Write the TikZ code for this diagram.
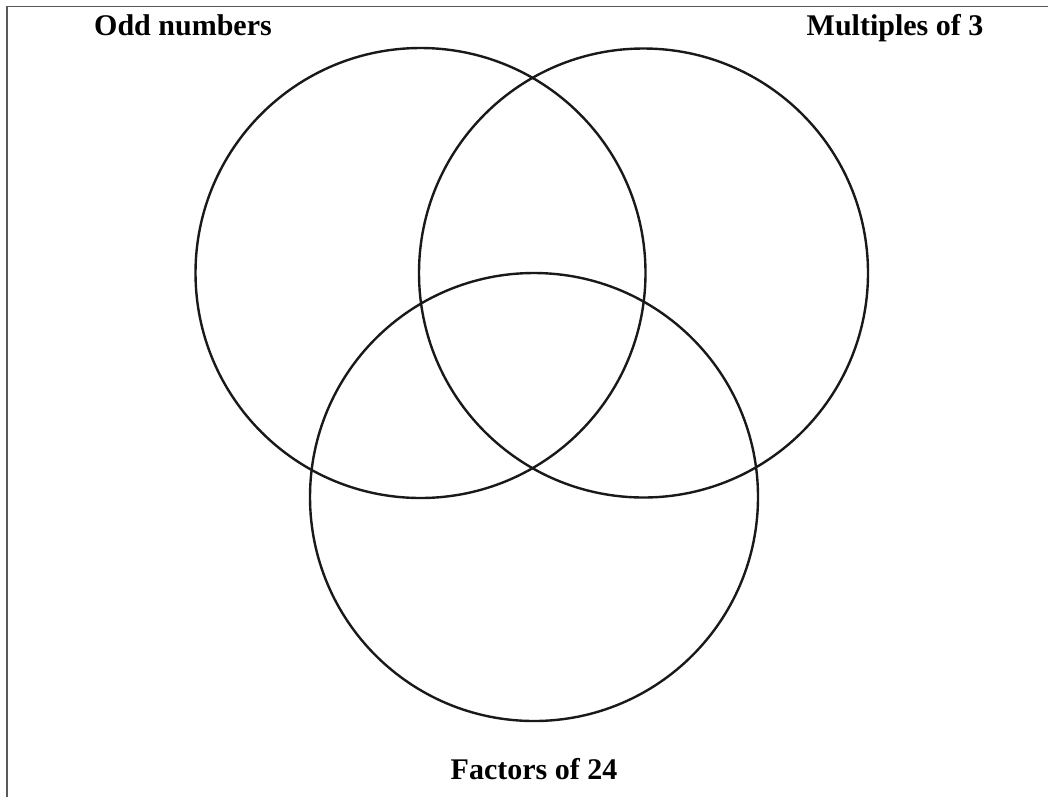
\documentclass[tikz,border=0pt]{standalone}
\usepackage{fontspec}
\setmainfont{Liberation Serif}
\begin{document}
\begin{tikzpicture}[x=0.75pt,y=-0.75pt,
  setcircle/.style={draw=black!90, line width=1.8pt},
  setlabel/.style={font=\fontsize{22.5}{26}\selectfont\bfseries, anchor=base, inner sep=0pt},
  frameline/.style={draw=black!65, line width=1.4pt}]
\useasboundingbox (0,0) rectangle (1048,797);
\coordinate (tl) at (7,6.5);
\coordinate (tr) at (1048,6.5);
\coordinate (bl) at (7,797);
\draw[frameline] (bl) -- (tl) -- (tr);
\node[setcircle, circle, minimum size=450*0.75pt, inner sep=0pt] (odd) at (420.5,273) {};
\node[setcircle, circle, minimum size=449*0.75pt, inner sep=0pt] (mult) at (643.5,273) {};
\node[setcircle, circle, minimum size=448*0.75pt, inner sep=0pt] (fact) at (534,497) {};
\node[setlabel] (lodd) at (183,35.5) {Odd numbers};
\node[setlabel] (lmult) at (895,35.5) {Multiples of 3};
\node[setlabel] (lfact) at (534,779.5) {Factors of 24};
\end{tikzpicture}
\end{document}
